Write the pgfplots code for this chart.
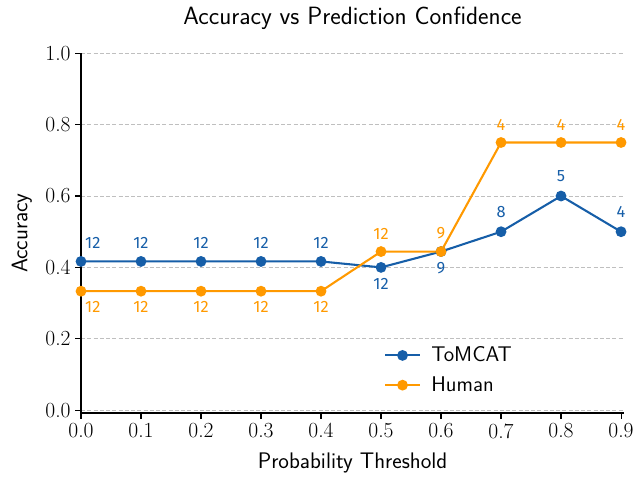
\documentclass[border=0pt]{standalone}
\usepackage{fontspec}
\usepackage{pgfplots}
\usepackage{pgfplotstable}
\pgfplotsset{compat=1.18}
\newfontfamily\fira{Fira Sans}
\definecolor{tblue}{RGB}{22,94,168}
\definecolor{horange}{RGB}{255,153,0}

\pgfplotstableread{
x y n dx dy
0.0 0.4167 12 8.5 13.5
0.1 0.4167 12 0 13.5
0.2 0.4167 12 0 13.5
0.3 0.4167 12 0 13.5
0.4 0.4167 12 0 13.5
0.5 0.4000 12 0 -12
0.6 0.4444 9 0 -12
0.7 0.5000 8 0 14
0.8 0.6000 5 0 14
0.9 0.5000 4 0 14
}\tomcat

\pgfplotstableread{
x y n dx dy
0.0 0.3333 12 8.5 -11.5
0.1 0.3333 12 0 -11.5
0.2 0.3333 12 0 -11.5
0.3 0.3333 12 0 -11.5
0.4 0.3333 12 0 -11.5
0.5 0.4444 12 0 13
0.6 0.4444 9 0 13
0.7 0.7500 4 0 13
0.8 0.7500 4 0 13
0.9 0.7500 4 0 13
}\human

\begin{document}
\begin{tikzpicture}
\path[use as bounding box] (-58.32pt,-46.08pt) rectangle (403.92pt,297.36pt);
\begin{axis}[
  at={(0pt,0pt)}, anchor=south west,
  scale only axis,
  width=391pt, height=259pt,
  xmin=0, xmax=0.905,
  ymin=-0.008, ymax=1.0,
  axis x line*=bottom, axis y line*=left,
  axis line style={line width=1.7pt, -},
  xtick={0,0.1,...,0.9},
  ytick={0,0.2,...,1.0},
  xticklabels={0.0,0.1,0.2,0.3,0.4,0.5,0.6,0.7,0.8,0.9},
  yticklabels={0.0,0.2,0.4,0.6,0.8,1.0},
  tick align=outside,
  major tick length=4pt,
  tick style={line width=0.8pt, black},
  tick label style={font=\fontsize{15.5}{18}\selectfont},
  ymajorgrids,
  grid style={gray!50, line width=0.6pt, dash pattern=on 3pt off 1.5pt},
  title={\sffamily\fontsize{18}{21}\selectfont Accuracy vs Prediction Confidence},
  title style={at={(axis description cs:0.5,1)}, anchor=center, yshift=19pt},
  xlabel={\sffamily\fontsize{16.2}{19}\selectfont Probability Threshold},
  xlabel style={at={(axis description cs:0.5,0)}, anchor=center, yshift=-36pt},
  ylabel={\sffamily\fontsize{16.2}{19}\selectfont Accuracy},
  ylabel style={at={(axis description cs:-0.1087,0.5)}, anchor=center},
  clip=false,
  legend style={at={(axis description cs:0.55,0.2)}, anchor=north west, draw=none, fill=none,
    font=\sffamily\fontsize{15.3}{18}\selectfont, row sep=5.2pt, cells={anchor=west}},
  legend cell align=left,
  legend image code/.code={\draw[mark repeat=2, mark phase=2] plot coordinates {(0cm,0cm) (12.5pt,0cm) (25pt,0cm)};},
  nodes near coords={\pgfplotspointmeta},
  point meta=explicit symbolic,
  visualization depends on={\thisrow{dx} \as \dxv},
  visualization depends on={\thisrow{dy} \as \dyv},
  nodes near coords style={anchor=center, font=\fira\fontsize{11.8}{14}\selectfont, xshift=\dxv pt, yshift=\dyv pt},
]
\addplot[tblue, line width=1.5pt, mark=*, mark size=3.1pt, nodes near coords style={text=tblue}]
  table[x=x, y=y, meta=n] {\tomcat};
\addlegendentry{\hspace{5.5pt}ToMCAT}
\addplot[horange, line width=1.5pt, mark=*, mark size=3.1pt, nodes near coords style={text=horange}]
  table[x=x, y=y, meta=n] {\human};
\addlegendentry{\hspace{5.5pt}Human}
\end{axis}
\end{tikzpicture}
\end{document}
